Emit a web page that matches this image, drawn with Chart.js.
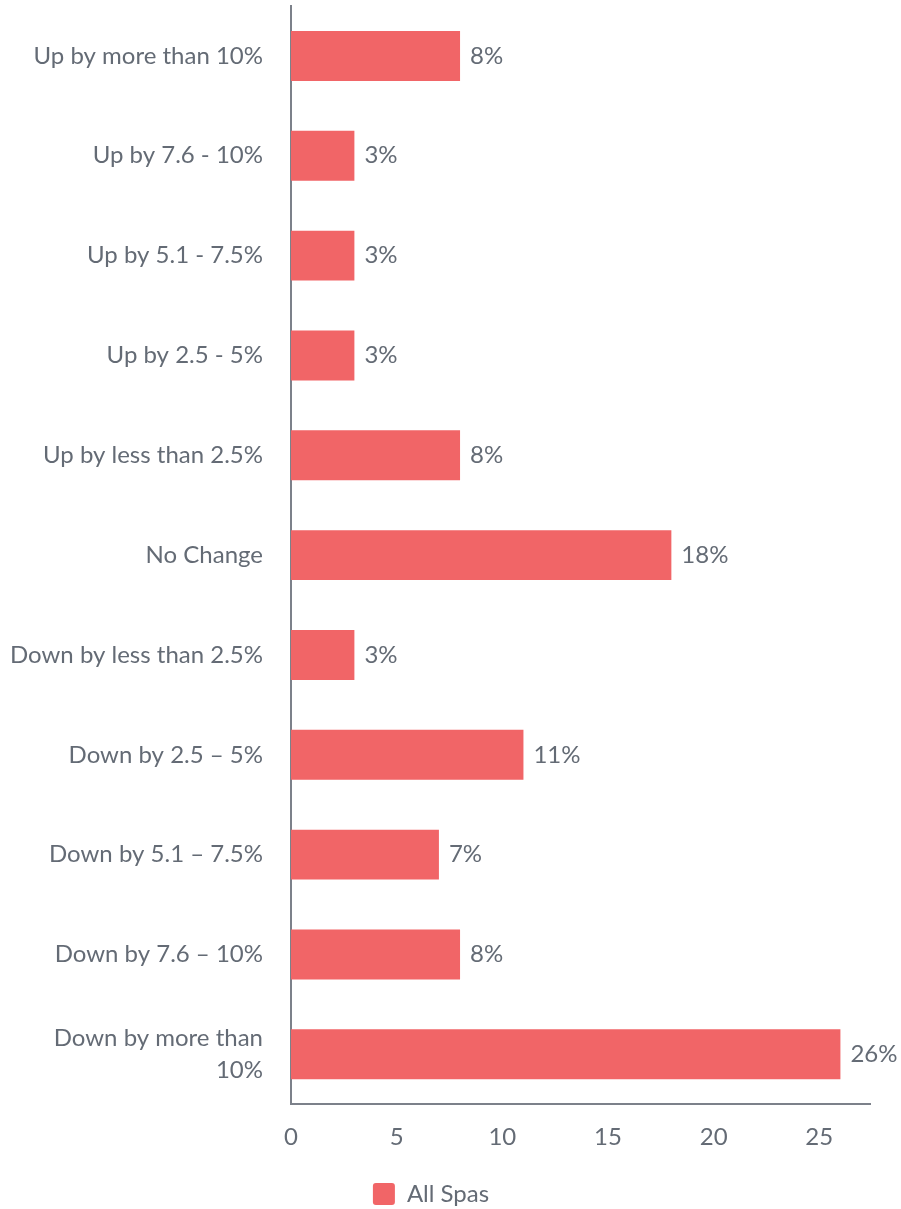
<!DOCTYPE html>
<html>
<head>
<meta charset="utf-8">
<script src="https://cdn.jsdelivr.net/npm/chart.js@4"></script>
<style>
  html, body { margin: 0; padding: 0; background: #fff; }
  #wrap { width: 901px; height: 1209px; position: relative; }
</style>
</head>
<body>
<div id="wrap"><canvas id="chart"></canvas></div>
<script>
  const categories = [
    "Up by more than 10%",
    "Up by 7.6 - 10%",
    "Up by 5.1 - 7.5%",
    "Up by 2.5 - 5%",
    "Up by less than 2.5%",
    "No Change",
    "Down by less than 2.5%",
    "Down by 2.5 \u2013 5%",
    "Down by 5.1 \u2013 7.5%",
    "Down by 7.6 \u2013 10%",
    ["Down by more than", "10%"]
  ];
  const allSpas = [8, 3, 3, 3, 8, 18, 3, 11, 7, 8, 26];
  const seriesName = "All Spas";
  const xTicks = [0, 5, 10, 15, 20, 25];

  const textColor = "#646b75";
  const axisColor = "#7c818a";
  const barColor = "#f16567";

  // value labels at the end of each bar
  const valueLabels = {
    id: "valueLabels",
    afterDatasetsDraw(chart) {
      const ctx = chart.ctx;
      ctx.save();
      ctx.font = "24px Lato";
      ctx.fillStyle = textColor;
      ctx.textBaseline = "middle";
      ctx.textAlign = "left";
      chart.getDatasetMeta(0).data.forEach((bar, i) => {
        ctx.fillText(allSpas[i] + "%", bar.x + 10, bar.y);
      });
      ctx.restore();
    }
  };

  // move legend slightly left and down
  const legendShift = {
    id: "legendShift",
    afterLayout(chart) {
      const lg = chart.legend;
      lg.left -= 4;
      lg.right -= 4;
      lg.top += 7;
      lg.bottom += 7;
    }
  };

  Chart.defaults.font.family = "Lato";
  Chart.defaults.font.size = 24;
  Chart.defaults.color = textColor;

  new Chart(document.getElementById("chart"), {
    type: "bar",
    data: {
      labels: categories,
      datasets: [{
        label: seriesName,
        data: allSpas,
        backgroundColor: barColor,
        categoryPercentage: 1,
        barPercentage: 0.5
      }]
    },
    options: {
      indexAxis: "y",
      responsive: true,
      maintainAspectRatio: false,
      animation: false,
      layout: { padding: { top: 6, right: 31, bottom: 0, left: 0 } },
      scales: {
        x: {
          min: 0,
          max: 27.4,
          grid: { display: false },
          border: { display: true, color: axisColor, width: 2 },
          ticks: { padding: 11, maxRotation: 0, autoSkip: false },
          afterBuildTicks(scale) {
            scale.ticks = xTicks.map(v => ({ value: v }));
          },
          afterFit(scale) { scale.paddingLeft = 0; scale.paddingRight = 0; }
        },
        y: {
          grid: { display: false },
          border: { display: true, color: axisColor, width: 2 },
          ticks: { padding: 20, autoSkip: false, font: { lineHeight: 1.3 } },
          afterFit(scale) {
            scale.width = 291;
            scale.paddingTop = 0;
            scale.paddingBottom = 0;
          }
        }
      },
      plugins: {
        legend: {
          position: "bottom",
          labels: {
            boxWidth: 22,
            boxHeight: 22,
            useBorderRadius: true,
            borderRadius: 3,
            padding: 12,
            color: textColor
          }
        },
        tooltip: { enabled: false }
      }
    },
    plugins: [valueLabels, legendShift]
  });
</script>
</body>
</html>
